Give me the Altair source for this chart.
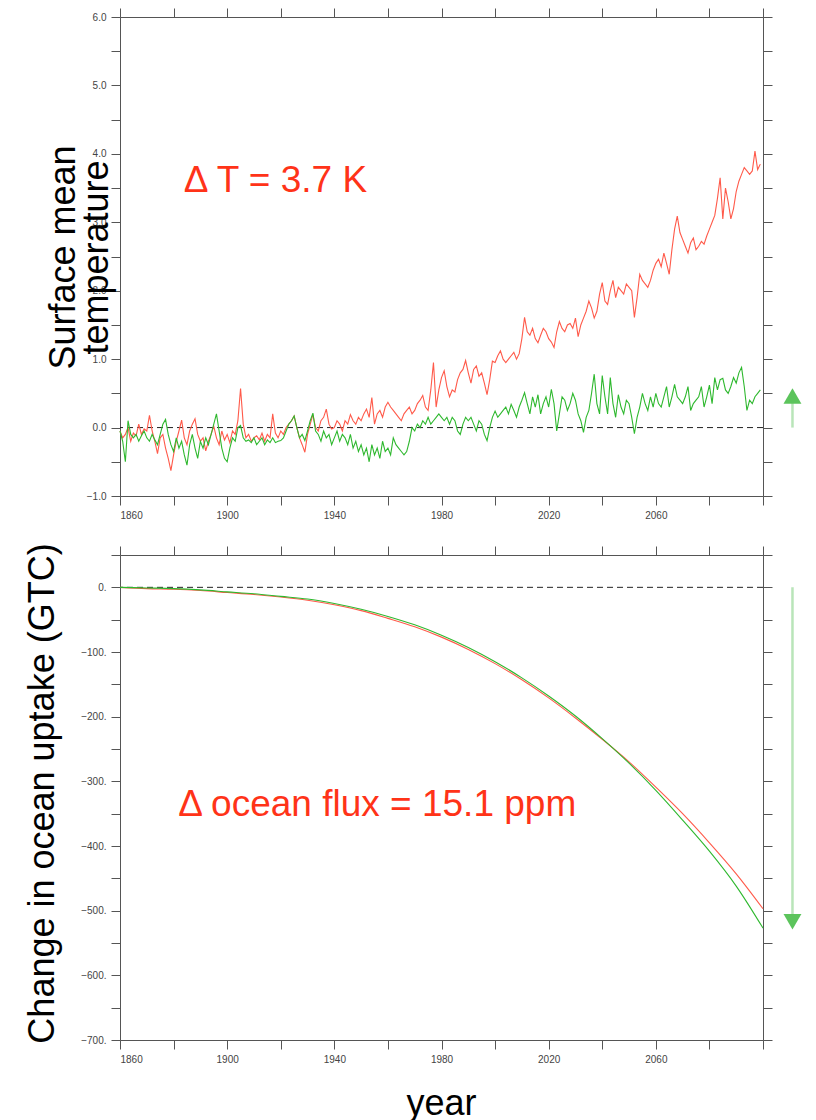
import altair as alt
import pandas as pd

# ---------------- data ----------------
years = list(range(1860, 2100))

red_T = [
    -0.05, -0.15, -0.10, 0.00, -0.20, -0.08, -0.12, 0.05, -0.10, -0.02,
    -0.05, 0.18, -0.05, -0.20, -0.38, -0.15, -0.10, -0.30, -0.45, -0.63,
    -0.40, -0.20, -0.05, 0.11, -0.15, -0.25, -0.05, 0.05, 0.13, -0.10,
    -0.20, -0.15, -0.34, -0.20, -0.10, 0.02, -0.15, -0.25, -0.05, -0.18,
    -0.10, -0.22, -0.05, -0.10, 0.10, 0.57, 0.05, -0.15, -0.10, -0.20,
    -0.15, -0.12, -0.18, -0.08, -0.20, -0.10, -0.15, 0.20, -0.08, -0.15,
    -0.05, -0.10, 0.00, 0.05, 0.10, 0.17, 0.00, -0.15, -0.25, -0.36,
    -0.10, 0.05, 0.19, 0.00, -0.05, 0.10, 0.15, 0.27, 0.05, -0.02,
    0.00, 0.10, 0.05, -0.05, 0.10, 0.05, 0.19, 0.10, 0.05, 0.15,
    0.10, 0.20, 0.27, 0.15, 0.44, 0.05, 0.20, 0.25, 0.15, 0.30,
    0.37, 0.30, 0.25, 0.20, 0.15, 0.10, 0.20, 0.25, 0.30, 0.20,
    0.25, 0.35, 0.40, 0.47, 0.30, 0.25, 0.55, 0.95, 0.30, 0.55,
    0.73, 0.83, 0.60, 0.45, 0.55, 0.52, 0.70, 0.80, 0.85, 0.98,
    0.80, 0.65, 0.85, 0.90, 0.75, 0.80, 0.65, 0.48, 0.70, 0.97,
    0.95, 1.05, 1.12, 1.00, 0.95, 1.00, 1.05, 1.10, 1.00, 1.08,
    1.30, 1.61, 1.40, 1.35, 1.45, 1.30, 1.24, 1.35, 1.45, 1.40,
    1.30, 1.25, 1.17, 1.40, 1.55, 1.45, 1.40, 1.50, 1.52, 1.45,
    1.60, 1.33, 1.50, 1.60, 1.70, 1.85, 1.75, 1.60, 1.70, 1.95,
    2.12, 1.85, 1.80, 2.00, 2.15, 1.90, 2.05, 2.00, 1.95, 2.10,
    2.05, 2.00, 1.61, 1.90, 2.24, 2.15, 2.10, 2.05, 2.15, 2.30,
    2.40, 2.46, 2.35, 2.55, 2.40, 2.24, 2.60, 2.90, 3.09, 2.85,
    2.75, 2.65, 2.55, 2.70, 2.77, 2.60, 2.65, 2.72, 2.68, 2.80,
    2.90, 3.00, 3.10, 3.35, 3.65, 3.05, 3.50, 3.30, 3.05, 3.20,
    3.45, 3.60, 3.70, 3.80, 3.75, 3.70, 3.75, 4.04, 3.77, 3.85,
]

green_T = [
    -0.05, -0.20, -0.50, 0.10, -0.10, -0.15, -0.10, -0.20, -0.12, -0.05,
    -0.15, -0.20, -0.10, -0.18, -0.25, -0.10, 0.05, 0.12, -0.10, -0.25,
    -0.35, -0.15, -0.30, -0.20, -0.40, -0.55, -0.25, -0.10, -0.30, -0.45,
    -0.20, -0.30, -0.15, -0.25, -0.10, 0.05, 0.20, -0.05, -0.30, -0.45,
    -0.50, -0.30, -0.15, -0.20, 0.00, 0.03, -0.15, -0.20, -0.18, -0.22,
    -0.15, -0.25, -0.20, -0.15, -0.25, -0.18, -0.22, -0.15, -0.22, -0.20,
    -0.19, -0.15, -0.05, 0.05, 0.10, 0.17, 0.00, -0.15, -0.10, -0.19,
    -0.05, 0.10, 0.21, -0.05, -0.10, -0.20, -0.05, -0.15, -0.10, -0.25,
    -0.15, -0.05, -0.20, -0.10, -0.15, -0.25, -0.10, -0.30, -0.20, -0.35,
    -0.25, -0.40, -0.30, -0.50, -0.25, -0.40, -0.30, -0.45, -0.20, -0.35,
    -0.30, -0.40, -0.15, -0.25, -0.30, -0.35, -0.40, -0.35, -0.20, 0.00,
    -0.05, 0.05, 0.00, 0.10, 0.05, 0.15, 0.05, 0.10, 0.15, 0.20,
    0.15, 0.10, 0.15, 0.05, 0.15, 0.10, -0.05, -0.10, 0.05, 0.15,
    0.10, 0.15, 0.05, -0.05, 0.10, 0.05, -0.10, -0.19, 0.00, 0.15,
    0.24, 0.15, 0.20, 0.25, 0.30, 0.20, 0.34, 0.25, 0.15, 0.30,
    0.40, 0.51, 0.35, 0.20, 0.45, 0.30, 0.48, 0.20, 0.35, 0.45,
    0.30, 0.56, 0.35, -0.05, 0.20, 0.45, 0.40, 0.25, 0.35, 0.50,
    0.40, 0.20, 0.10, -0.07, 0.15, 0.25, 0.50, 0.78, 0.35, 0.20,
    0.76, 0.45, 0.20, 0.73, 0.35, 0.15, 0.48, 0.30, 0.20, 0.40,
    0.35, 0.15, -0.09, 0.15, 0.30, 0.50, 0.35, 0.25, 0.45, 0.30,
    0.50, 0.35, 0.30, 0.45, 0.60, 0.30, 0.45, 0.63, 0.45, 0.40,
    0.35, 0.45, 0.60, 0.25, 0.35, 0.40, 0.45, 0.60, 0.30, 0.45,
    0.62, 0.35, 0.73, 0.55, 0.70, 0.72, 0.55, 0.50, 0.60, 0.73,
    0.65, 0.80, 0.88, 0.60, 0.25, 0.40, 0.35, 0.45, 0.50, 0.55,
]

uptake_years = list(range(1860, 2101, 10))
red_U = [0, -2, -3, -5, -8, -11, -15, -20, -27, -36, -48, -61, -77,
         -96, -118, -143, -171, -202, -235, -270, -309, -350, -395, -443, -497]
green_U = [0, -1, -2, -4, -7, -10, -14, -18, -25, -34, -45, -58, -74,
           -93, -115, -140, -168, -199, -234, -272, -314, -360, -408, -462, -527]

temp_note = "\u0394 T = 3.7 K"
temp_note_pos = [1918, 3.6]
flux_note = "\u0394 ocean flux = 15.1 ppm"
flux_note_pos = [1956, -337]

arrow_year = 2111
temp_arrow = [0.0, 0.40, 0.46]     # start, line end, head position
flux_arrow = [0.0, -505, -517]

# ---------------- styling ----------------
FONT = "Liberation Sans"
RED = "#ff5a4a"
GREEN = "#2eb82e"
NOTE_RED = "#ff3318"
ARROW_LINE = "#b9e5b9"
ARROW_HEAD = "#5cc45c"
AX = "#555555"

xscale = alt.Scale(domain=[1860, 2100], nice=False, zero=False)
tscale = alt.Scale(domain=[-1, 6], nice=False, zero=False)
uscale = alt.Scale(domain=[-700, 50], nice=False, zero=False)

x_ticks = list(range(1860, 2101, 20))
t_ticks = [v / 2 for v in range(-2, 13)]
u_ticks = list(range(-700, 51, 50))

common_axis = dict(domainColor=AX, tickColor=AX, tickSize=9, grid=False,
                   labelFont=FONT, labelFontSize=10, labelColor="#444444",
                   titleFont=FONT, titleFontSize=36, titleFontWeight="normal",
                   titleColor="#000000", labelPadding=5)

XLAB = "(datum.value % 40 == 20 && datum.value < 2100) ? datum.value : ''"

x_bottom_plain = alt.Axis(values=x_ticks, title=None, labelExpr=XLAB, **common_axis)
x_bottom_year = alt.Axis(values=x_ticks, title="year", titleX=321, titleY=74,
                         titleBaseline="alphabetic", titleAlign="center",
                         labelExpr=XLAB, **common_axis)
x_top = alt.Axis(values=x_ticks, orient="top", labels=False, title=None, **common_axis)

t_left = alt.Axis(values=t_ticks, title=["Surface mean", "temperature"],
                  titleX=-46, titleY=240, titleAngle=-90, titleAlign="center",
                  titleBaseline="alphabetic", titleLineHeight=33,
                  labelExpr="datum.value % 1 == 0 ? format(datum.value, '.1f') : ''",
                  **common_axis)
t_right = alt.Axis(values=t_ticks, orient="right", labels=False, title=None, **common_axis)

u_left = alt.Axis(values=u_ticks, title="Change in ocean uptake (GTC)",
                  titleX=-67, titleY=238, titleAngle=-90, titleAlign="center",
                  titleBaseline="alphabetic",
                  labelExpr="datum.value % 100 == 0 ? (datum.value == 0 ? '0.' : format(datum.value, 'd') + '.') : ''",
                  **common_axis)
u_right = alt.Axis(values=u_ticks, orient="right", labels=False, title=None, **common_axis)


def X(field):
    return alt.X(field, scale=xscale, axis=None)


# ---------------- top panel ----------------
df_red = pd.DataFrame({"year": years, "T": red_T})
df_green = pd.DataFrame({"year": years, "T": green_T})

top_axes = alt.Chart(df_red).mark_line(opacity=0).encode(
    x=alt.X("year:Q", scale=xscale, axis=x_bottom_plain),
    y=alt.Y("T:Q", scale=tscale, axis=t_left),
)
top_frame = alt.Chart(df_red).mark_line(opacity=0).encode(
    x=alt.X("year:Q", scale=xscale, axis=x_top),
    y=alt.Y("T:Q", scale=tscale, axis=t_right),
)
top_red = alt.Chart(df_red).mark_line(color=RED, strokeWidth=1.1).encode(
    x=X("year:Q"), y=alt.Y("T:Q", scale=tscale, axis=None))
top_green = alt.Chart(df_green).mark_line(color=GREEN, strokeWidth=1.1).encode(
    x=X("year:Q"), y=alt.Y("T:Q", scale=tscale, axis=None))
top_zero = alt.Chart(pd.DataFrame({"v": [0.0]})).mark_rule(
    color="#222222", strokeDash=[6, 4], strokeWidth=1).encode(
    y=alt.Y("v:Q", scale=tscale, axis=None))
top_note = alt.Chart(pd.DataFrame({"x": [temp_note_pos[0]], "y": [temp_note_pos[1]], "t": [temp_note]})).mark_text(
    font=FONT, fontSize=37, color=NOTE_RED, align="center", baseline="middle").encode(
    x=X("x:Q"), y=alt.Y("y:Q", scale=tscale, axis=None), text="t:N")
top_arrow_line = alt.Chart(pd.DataFrame({"x": [arrow_year], "y": [temp_arrow[0]], "y2": [temp_arrow[1]]})).mark_rule(
    color=ARROW_LINE, strokeWidth=2.5, clip=False).encode(
    x=X("x:Q"), y=alt.Y("y:Q", scale=tscale, axis=None), y2="y2:Q")
top_arrow_head = alt.Chart(pd.DataFrame({"x": [arrow_year], "y": [temp_arrow[2]]})).mark_point(
    shape="triangle-up", filled=True, size=320, color=ARROW_HEAD, opacity=1, clip=False).encode(
    x=X("x:Q"), y=alt.Y("y:Q", scale=tscale, axis=None))

top = alt.layer(top_axes, top_frame, top_zero, top_red, top_green, top_note,
                top_arrow_line, top_arrow_head).resolve_axis(
    x="independent", y="independent").properties(width=643, height=479)

# ---------------- bottom panel ----------------
df_ur = pd.DataFrame({"year": uptake_years, "U": red_U})
df_ug = pd.DataFrame({"year": uptake_years, "U": green_U})

bot_axes = alt.Chart(df_ur).mark_line(opacity=0).encode(
    x=alt.X("year:Q", scale=xscale, axis=x_bottom_year),
    y=alt.Y("U:Q", scale=uscale, axis=u_left),
)
bot_frame = alt.Chart(df_ur).mark_line(opacity=0).encode(
    x=alt.X("year:Q", scale=xscale, axis=x_top),
    y=alt.Y("U:Q", scale=uscale, axis=u_right),
)
bot_red = alt.Chart(df_ur).mark_line(color=RED, strokeWidth=1.1, interpolate="monotone").encode(
    x=X("year:Q"), y=alt.Y("U:Q", scale=uscale, axis=None))
bot_green = alt.Chart(df_ug).mark_line(color=GREEN, strokeWidth=1.1, interpolate="monotone").encode(
    x=X("year:Q"), y=alt.Y("U:Q", scale=uscale, axis=None))
bot_zero = alt.Chart(pd.DataFrame({"v": [0.0]})).mark_rule(
    color="#222222", strokeDash=[6, 4], strokeWidth=1).encode(
    y=alt.Y("v:Q", scale=uscale, axis=None))
bot_note = alt.Chart(pd.DataFrame({"x": [flux_note_pos[0]], "y": [flux_note_pos[1]], "t": [flux_note]})).mark_text(
    font=FONT, fontSize=37, color=NOTE_RED, align="center", baseline="middle").encode(
    x=X("x:Q"), y=alt.Y("y:Q", scale=uscale, axis=None), text="t:N")
bot_arrow_line = alt.Chart(pd.DataFrame({"x": [arrow_year], "y": [flux_arrow[0]], "y2": [flux_arrow[1]]})).mark_rule(
    color=ARROW_LINE, strokeWidth=2.5, clip=False).encode(
    x=X("x:Q"), y=alt.Y("y:Q", scale=uscale, axis=None), y2="y2:Q")
bot_arrow_head = alt.Chart(pd.DataFrame({"x": [arrow_year], "y": [flux_arrow[2]]})).mark_point(
    shape="triangle-down", filled=True, size=320, color=ARROW_HEAD, opacity=1, clip=False).encode(
    x=X("x:Q"), y=alt.Y("y:Q", scale=uscale, axis=None))

bottom = alt.layer(bot_axes, bot_frame, bot_zero, bot_red, bot_green, bot_note,
                   bot_arrow_line, bot_arrow_head).resolve_axis(
    x="independent", y="independent").properties(width=643, height=485)

chart = alt.vconcat(top, bottom, spacing=59, bounds="flush").properties(
    padding={"left": 23, "top": 7, "right": 5, "bottom": 0}
).configure_view(stroke=None).configure(background="white")

chart.save("out.html", embed_options={"renderer": "svg", "actions": False})
